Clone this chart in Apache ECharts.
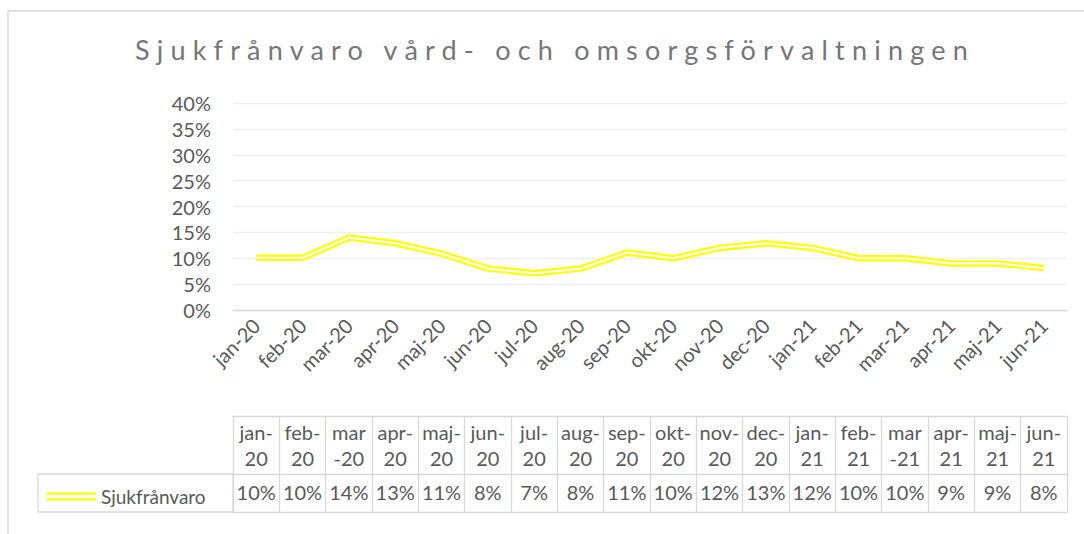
<!DOCTYPE html>
<html>
<head>
<meta charset="utf-8">
<script src="https://cdn.jsdelivr.net/npm/echarts@6/dist/echarts.min.js"></script>
<style>
  html, body { margin: 0; padding: 0; background: #fff; }
  #main { width: 1084px; height: 534px; }
  /* Excel-style spaced title */
  #main text[fill="#767676"] { letter-spacing: 7.2px; }
</style>
</head>
<body>
<div id="main"></div>
<script>
// months on the x axis
const months = ['jan-20', 'feb-20', 'mar-20', 'apr-20', 'maj-20', 'jun-20', 'jul-20', 'aug-20', 'sep-20',
  'okt-20', 'nov-20', 'dec-20', 'jan-21', 'feb-21', 'mar-21', 'apr-21', 'maj-21', 'jun-21'];
// header cells in the data table (wrapped like in the original)
const tableHeads = ['jan-\n20', 'feb-\n20', 'mar\n-20', 'apr-\n20', 'maj-\n20', 'jun-\n20', 'jul-\n20', 'aug-\n20', 'sep-\n20',
  'okt-\n20', 'nov-\n20', 'dec-\n20', 'jan-\n21', 'feb-\n21', 'mar\n-21', 'apr-\n21', 'maj-\n21', 'jun-\n21'];
// sick leave in percent
const sickLeave = [10.1, 10.1, 14.0, 12.9, 10.9, 8.0, 7.1, 8.0, 11.1, 10.0, 12.0, 12.9, 12.0, 10.0, 10.0, 9.0, 9.0, 8.1];

const txt = '#595959';
const border = '#d9d9d9';
const font = 'Lato';

let myChart = echarts.init(document.getElementById('main'), null, { renderer: 'svg' });

let option = {
  animation: false,
  backgroundColor: '#fff',
  title: {
    text: 'Sjukfrånvaro vård- och omsorgsförvaltningen',
    left: 130,
    top: 31,
    textStyle: { color: '#767676', fontSize: 27, fontWeight: 'normal', fontFamily: font }
  },
  legend: {
    left: 41,
    top: 482,
    data: ['Sjukfrånvaro'],
    icon: 'path://M0,0H50V2.2H0Z M0,5.6H50V7.8H0Z',
    itemWidth: 50,
    itemHeight: 8,
    textStyle: { color: txt, fontSize: 19, fontFamily: font },
    itemStyle: { color: '#ffff00' }
  },
  grid: { left: 233, right: 17, top: 103, bottom: 224 },
  xAxis: [
    {
      type: 'category',
      data: months,
      boundaryGap: true,
      axisLine: { lineStyle: { color: border, width: 1.3 } },
      axisTick: { show: false },
      axisLabel: { rotate: 45, color: txt, fontSize: 20, fontFamily: font, margin: 12, interval: 0 }
    },
    {
      type: 'category',
      data: months,
      position: 'bottom',
      offset: 106,
      axisLine: { lineStyle: { color: border, width: 1.3 } },
      axisTick: { show: true, length: 58, interval: 0, lineStyle: { color: border, width: 1.3 } },
      axisLabel: {
        interval: 0, margin: 3, color: txt, fontSize: 20, fontFamily: font, lineHeight: 26,
        formatter: (v, i) => tableHeads[i]
      }
    },
    {
      type: 'category',
      data: months,
      position: 'bottom',
      offset: 164,
      axisLine: { lineStyle: { color: border, width: 1.3 } },
      axisTick: { show: true, length: 38, interval: 0, lineStyle: { color: border, width: 1.3 } },
      axisLabel: {
        interval: 0, margin: 8, color: txt, fontSize: 20, fontFamily: font,
        formatter: (v, i) => Math.round(sickLeave[i]) + '%'
      }
    },
    {
      type: 'category',
      data: months,
      position: 'bottom',
      offset: 202,
      axisLine: { lineStyle: { color: border, width: 1.3 } },
      axisTick: { show: false },
      axisLabel: { show: false }
    }
  ],
  yAxis: {
    type: 'value',
    min: 0,
    max: 40,
    interval: 5,
    axisLine: { show: false },
    axisTick: { show: false },
    axisLabel: { color: txt, fontSize: 20, fontFamily: font, margin: 22, formatter: '{value}%' },
    splitLine: { lineStyle: { color: '#efefef', width: 1.3 } }
  },
  series: [
    {
      name: 'Sjukfrånvaro',
      type: 'line',
      data: sickLeave,
      symbol: 'none',
      lineStyle: { color: '#ffff00', width: 6.5 },
      itemStyle: { color: '#ffff00' }
    },
    {
      name: 'inner',
      type: 'line',
      data: sickLeave,
      symbol: 'none',
      silent: true,
      lineStyle: { color: '#ffffff', width: 2.2 },
      itemStyle: { color: '#ffffff' }
    }
  ],
  graphic: [
    {
      type: 'rect',
      shape: { x: 8, y: 11, width: 1200, height: 700 },
      style: { fill: 'none', stroke: border, lineWidth: 1.5 },
      silent: true
    },
    {
      type: 'rect',
      shape: { x: 38, y: 474, width: 195, height: 38 },
      style: { fill: 'none', stroke: border, lineWidth: 1.3 },
      silent: true
    }
  ]
};

myChart.setOption(option);
</script>
</body>
</html>
